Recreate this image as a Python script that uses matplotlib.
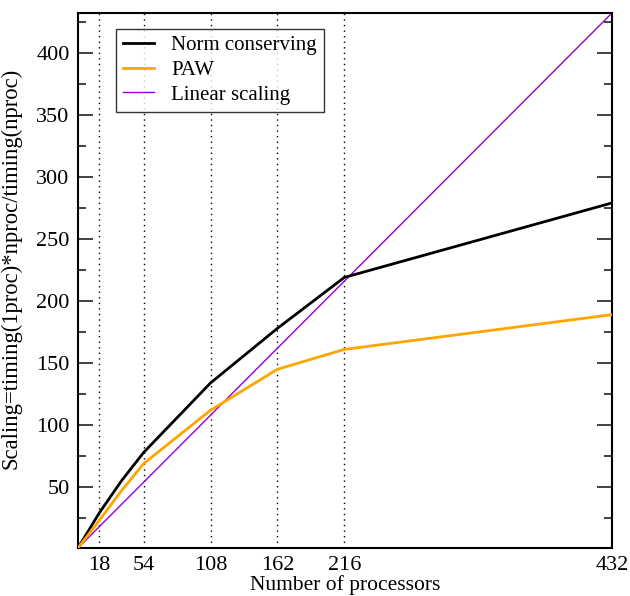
import matplotlib.pyplot as plt
import numpy as np

plt.rcParams['font.family'] = ['Liberation Serif', 'DejaVu Serif']

# Scaling data
nproc = [1, 18, 36, 54, 108, 162, 216, 432]
norm_conserving = [1, 29, 55, 78, 134, 178, 219, 279]
paw = [1, 23, 47, 69, 112, 145, 161, 189]
linear = [1, 432]

xticks = [18, 54, 108, 162, 216, 432]

fig = plt.figure(figsize=(6.3, 5.96), dpi=100)
ax = fig.add_axes([0.1238, 0.0805, 0.8476, 0.8977])

# dotted guide lines at the tested processor counts
for xv in xticks[:-1]:
    ax.axvline(xv, color='black', linestyle=(0, (1, 3)), linewidth=1.0, zorder=1)

ax.plot(nproc, norm_conserving, color='black', linewidth=2.0, label='Norm conserving', zorder=3)
ax.plot(nproc, paw, color='#ffa500', linewidth=2.0, label='PAW', zorder=3)
ax.plot(linear, linear, color='#9400d3', linewidth=1.0, label='Linear scaling', zorder=2)

ax.set_xlim(1, 432)
ax.set_ylim(1, 432)

ax.set_xticks(xticks)
ax.set_xticklabels([str(v) for v in xticks])
ax.set_yticks(np.arange(50, 401, 50))
ax.set_yticks(np.arange(25, 432, 25), minor=True)

ax.tick_params(axis='y', which='major', direction='in', length=11, width=1.3,
               right=True, labelsize=16, pad=6, color='#333333')
ax.tick_params(axis='y', which='minor', direction='in', length=6, width=1.3,
               right=True, color='#333333')
ax.tick_params(axis='x', which='major', direction='in', length=0, labelsize=16, pad=6)

for sp in ax.spines.values():
    sp.set_linewidth(1.5)

ax.set_xlabel('Number of processors', fontsize=15.5, labelpad=0)
ax.set_ylabel('Scaling=timing(1proc)*nproc/timing(nproc)', fontsize=16.3)
ax.yaxis.set_label_coords(-0.105, 0.523)

leg = ax.legend(loc='upper left', bbox_to_anchor=(0.071, 0.971), fontsize=15,
                frameon=True, fancybox=False, edgecolor='black', handlelength=1.5,
                handletextpad=0.8, borderpad=0.35, labelspacing=0.24, borderaxespad=0)
leg.get_frame().set_linewidth(1.0)

fig.savefig('out.png', dpi=100)
